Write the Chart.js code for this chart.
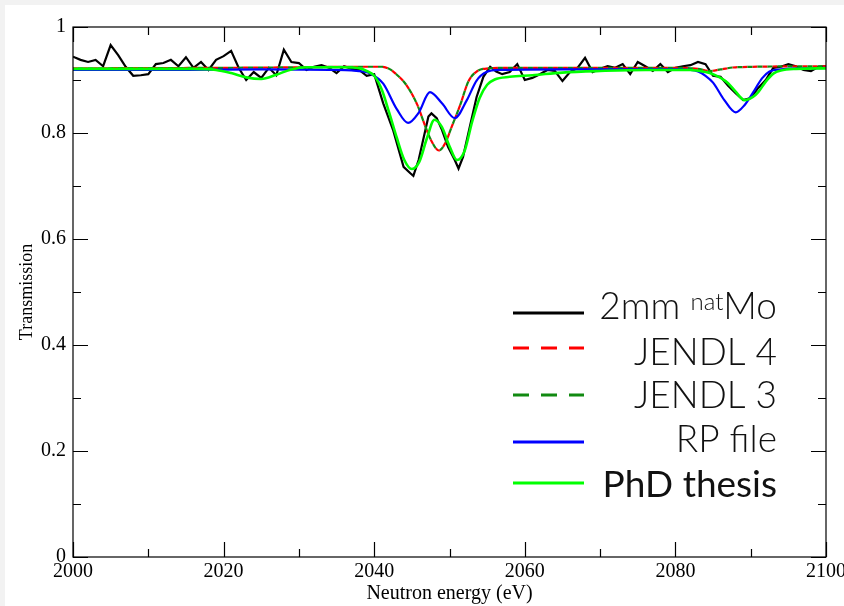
<!DOCTYPE html>
<html>
<head>
<meta charset="utf-8">
<script src="https://cdn.jsdelivr.net/npm/chart.js@4.4.1/dist/chart.umd.min.js"></script>
<style>
  html, body { margin: 0; padding: 0; background: #f2f2f2; overflow: hidden; width: 844px; height: 606px; }
  #wrap { position: absolute; left: 5px; top: 5px; width: 865px; height: 601px; background: #fff; }
</style>
</head>
<body>
<div id="wrap"><canvas id="chart" width="865" height="601"></canvas></div>
<script>
// ========================
// DATA
// ========================
// measured transmission, 2mm natMo
const measEnergy = [
  2000, 2001, 2002, 2003, 2004, 2005, 2006, 2007, 2008, 2009,
  2010, 2011, 2012, 2013, 2014, 2015, 2016, 2017, 2018, 2019,
  2020, 2021, 2022, 2023, 2024, 2025, 2026, 2027, 2028, 2029,
  2030, 2031, 2032, 2033, 2034, 2035, 2036, 2037, 2038, 2039,
  2040, 2041.2, 2042.5, 2043.9, 2044.8, 2045.2, 2045.9, 2047.2, 2047.6, 2048.3,
  2049, 2049.8, 2050.7, 2051.2, 2051.8, 2052.7, 2053.6, 2054.5, 2055.4, 2056.2,
  2057, 2058, 2059, 2060, 2061, 2062, 2063, 2064, 2065, 2066,
  2067, 2068, 2069, 2070, 2071, 2072, 2073, 2074, 2075, 2076,
  2077, 2078, 2079, 2080, 2081, 2082, 2083, 2084, 2085, 2086,
  2087, 2088, 2089, 2090, 2091, 2092, 2093, 2094, 2095, 2096,
  2097, 2098, 2099, 2100
];
const measTrans = [
  0.944, 0.938, 0.934, 0.938, 0.926, 0.966, 0.947, 0.925, 0.908, 0.909,
  0.911, 0.930, 0.932, 0.938, 0.926, 0.943, 0.923, 0.934, 0.919, 0.938,
  0.945, 0.955, 0.923, 0.900, 0.915, 0.904, 0.923, 0.909, 0.957, 0.934,
  0.932, 0.919, 0.925, 0.928, 0.923, 0.913, 0.926, 0.921, 0.919, 0.908,
  0.911, 0.856, 0.806, 0.736, 0.724, 0.719, 0.749, 0.831, 0.837, 0.828,
  0.806, 0.774, 0.749, 0.733, 0.755, 0.812, 0.868, 0.906, 0.925, 0.916,
  0.911, 0.915, 0.930, 0.900, 0.904, 0.911, 0.919, 0.917, 0.898, 0.915,
  0.923, 0.942, 0.915, 0.921, 0.926, 0.923, 0.930, 0.911, 0.934, 0.926,
  0.917, 0.930, 0.915, 0.923, 0.926, 0.928, 0.934, 0.930, 0.908, 0.906,
  0.889, 0.875, 0.862, 0.866, 0.885, 0.900, 0.923, 0.925, 0.930, 0.926,
  0.919, 0.917, 0.925, 0.926
];

// JENDL 4 / JENDL 3 (same curve)
const jendlEnergy = [2000, 2020, 2030, 2038, 2041, 2042, 2043, 2044.3, 2045.7, 2046.8,
  2047.6, 2048.6, 2049.4, 2050.3, 2051.4, 2052.5, 2053.6, 2055.2, 2057, 2080,
  2083, 2084.5, 2086, 2088, 2100];
const jendl4Trans = [0.922, 0.923, 0.924, 0.925, 0.925, 0.921, 0.910, 0.890, 0.854, 0.812,
  0.785, 0.767, 0.780, 0.812, 0.852, 0.897, 0.916, 0.922, 0.923, 0.923,
  0.921, 0.917, 0.920, 0.924, 0.926];
const jendl3Trans = [0.922, 0.923, 0.924, 0.925, 0.925, 0.921, 0.910, 0.890, 0.854, 0.812,
  0.785, 0.767, 0.780, 0.812, 0.852, 0.897, 0.916, 0.922, 0.923, 0.923,
  0.921, 0.917, 0.920, 0.924, 0.926];

// RP file
const rpEnergy = [2000, 2015, 2025, 2035, 2037, 2038.5, 2039.5, 2041.2, 2043, 2044.5,
  2045.9, 2047.4, 2049, 2050.7, 2052.3, 2053.6, 2054.9, 2056.7, 2065, 2080,
  2082, 2083, 2084, 2085, 2086.5, 2088, 2089.2, 2090.3, 2091.5, 2092.5,
  2094, 2100];
const rpTrans = [0.919, 0.919, 0.920, 0.919, 0.918, 0.916, 0.912, 0.893, 0.845, 0.819,
  0.838, 0.877, 0.856, 0.828, 0.862, 0.899, 0.915, 0.919, 0.920, 0.920,
  0.919, 0.916, 0.908, 0.895, 0.862, 0.839, 0.853, 0.876, 0.903, 0.916,
  0.920, 0.923];

// PhD thesis
const phdEnergy = [2000, 2010, 2016, 2019, 2021, 2023, 2025, 2027, 2029, 2031,
  2036, 2038, 2039, 2040, 2041, 2042, 2043, 2044, 2045, 2046,
  2047, 2048, 2049, 2050, 2051, 2052, 2053, 2054, 2055, 2056,
  2058, 2061, 2065, 2070, 2076, 2082, 2084, 2085, 2086, 2087,
  2088, 2089.2, 2090.3, 2091, 2092, 2093, 2094, 2096, 2100];
const phdTrans = [0.921, 0.921, 0.921, 0.919, 0.913, 0.905, 0.902, 0.910, 0.920, 0.924,
  0.924, 0.922, 0.917, 0.908, 0.882, 0.838, 0.791, 0.749, 0.732, 0.746,
  0.790, 0.825, 0.811, 0.775, 0.749, 0.766, 0.821, 0.866, 0.891, 0.901,
  0.906, 0.909, 0.914, 0.917, 0.919, 0.919, 0.915, 0.911, 0.904, 0.894,
  0.878, 0.862, 0.868, 0.877, 0.897, 0.912, 0.918, 0.921, 0.922];

// ticks
const xMajor = [2000, 2020, 2040, 2060, 2080, 2100];
const xMinor = [2010, 2030, 2050, 2070, 2090];
const yMajor = [0, 0.2, 0.4, 0.6, 0.8, 1];
const yMinor = [0.1, 0.3, 0.5, 0.7, 0.9];

const legendLabels = [['2mm ', 'nat', 'Mo'], 'JENDL 4', 'JENDL 3', 'RP file', 'PhD thesis'];

function toPoints(xs, ys) {
  return xs.map((x, i) => ({ x: x, y: ys[i] }));
}

// ========================
// PLUGINS
// ========================
// frame with inward major/minor ticks on all four sides
const frameTicks = {
  id: 'frameTicks',
  afterDatasetsDraw(chart) {
    const { ctx, chartArea: a, scales } = chart;
    const xs = scales.x, ys = scales.y;
    ctx.save();
    ctx.strokeStyle = '#000';
    ctx.lineWidth = 1.2;
    ctx.strokeRect(a.left, a.top, a.right - a.left, a.bottom - a.top);
    ctx.beginPath();
    const tickX = (v, len) => {
      const px = Math.round(xs.getPixelForValue(v)) + 0.5;
      ctx.moveTo(px, a.bottom); ctx.lineTo(px, a.bottom - len);
      ctx.moveTo(px, a.top); ctx.lineTo(px, a.top + len);
    };
    const tickY = (v, len) => {
      const py = Math.round(ys.getPixelForValue(v)) + 0.5;
      ctx.moveTo(a.left, py); ctx.lineTo(a.left + len, py);
      ctx.moveTo(a.right, py); ctx.lineTo(a.right - len, py);
    };
    xMajor.forEach(v => tickX(v, 15));
    xMinor.forEach(v => tickX(v, 8));
    yMajor.forEach(v => tickY(v, 15));
    yMinor.forEach(v => tickY(v, 8));
    ctx.stroke();
    ctx.restore();
  }
};

// legend drawn inside the plot, text right aligned
const insideLegend = {
  id: 'insideLegend',
  afterDraw(chart) {
    const ctx = chart.ctx;
    const rowY = [308, 343, 390, 437, 478];
    const baseY = [314, 360, 403, 447, 492];
    const lineX0 = 508, lineX1 = 579, textRight = 772;
    ctx.save();
    chart.data.datasets.forEach((ds, i) => {
      ctx.beginPath();
      ctx.strokeStyle = ds.borderColor;
      ctx.lineWidth = 3;
      ctx.setLineDash(ds.borderDash && ds.borderDash.length ? [16, 12] : []);
      ctx.moveTo(lineX0, rowY[i]);
      ctx.lineTo(lineX1, rowY[i]);
      ctx.stroke();
      ctx.setLineDash([]);

      ctx.fillStyle = '#111';
      ctx.textAlign = 'right';
      ctx.textBaseline = 'alphabetic';
      const lab = legendLabels[i];
      const mainFont = (i === 4 ? '400 ' : '300 ') + '37px Lato';
      if (Array.isArray(lab)) {
        let x = textRight;
        ctx.font = mainFont;
        ctx.fillText(lab[2], x, baseY[i]);
        x -= ctx.measureText(lab[2]).width;
        ctx.font = '300 24px Lato';
        ctx.fillText(lab[1], x, baseY[i] - 9);
        x -= ctx.measureText(lab[1]).width;
        ctx.font = mainFont;
        ctx.fillText(lab[0], x, baseY[i]);
      } else {
        ctx.font = mainFont;
        ctx.fillText(lab, textRight, baseY[i]);
      }
    });
    ctx.restore();
  }
};

// ========================
// CHART
// ========================
const serif = 'Liberation Serif';

new Chart(document.getElementById('chart'), {
  type: 'line',
  data: {
    datasets: [
      { label: '2mm natMo', data: toPoints(measEnergy, measTrans), borderColor: '#000000',
        borderWidth: 2.2, tension: 0, order: 5 },
      { label: 'JENDL 4', data: toPoints(jendlEnergy, jendl4Trans), borderColor: '#ff0000',
        borderWidth: 2.2, borderDash: [5, 5], cubicInterpolationMode: 'monotone', order: 4 },
      { label: 'JENDL 3', data: toPoints(jendlEnergy, jendl3Trans), borderColor: '#118a11',
        borderWidth: 2.2, borderDash: [5, 5], borderDashOffset: 5, cubicInterpolationMode: 'monotone', order: 3 },
      { label: 'RP file', data: toPoints(rpEnergy, rpTrans), borderColor: '#0000ff',
        borderWidth: 2.2, cubicInterpolationMode: 'monotone', order: 2 },
      { label: 'PhD thesis', data: toPoints(phdEnergy, phdTrans), borderColor: '#00ff00',
        borderWidth: 2.6, cubicInterpolationMode: 'monotone', order: 1 }
    ]
  },
  options: {
    responsive: false,
    animation: false,
    layout: { padding: { top: 22, right: 44, bottom: 0, left: 0 } },
    elements: { point: { radius: 0 } },
    plugins: { legend: { display: false }, tooltip: { enabled: false } },
    scales: {
      x: {
        type: 'linear', min: 2000, max: 2100,
        grid: { display: false, drawTicks: false },
        border: { display: false },
        afterBuildTicks: s => { s.ticks = xMajor.map(v => ({ value: v })); },
        afterFit: s => { s.height = 49; },
        ticks: { color: '#000', font: { family: serif, size: 20 }, padding: 3,
          maxRotation: 0, autoSkip: false, callback: v => String(v) },
        title: { display: true, text: 'Neutron energy (eV)', color: '#000',
          font: { family: serif, size: 20 }, padding: { top: 0, bottom: 0 } }
      },
      y: {
        type: 'linear', min: 0, max: 1,
        grid: { display: false, drawTicks: false },
        border: { display: false },
        afterBuildTicks: s => { s.ticks = yMajor.map(v => ({ value: v })); },
        afterFit: s => { s.width = 68; },
        ticks: { color: '#000', font: { family: serif, size: 20 }, padding: 7,
          callback: v => String(v) },
        title: { display: true, text: 'Transmission', color: '#000',
          font: { family: serif, size: 18 }, padding: { top: 11, bottom: 0 } }
      }
    }
  },
  plugins: [frameTicks, insideLegend]
});
</script>
</body>
</html>
